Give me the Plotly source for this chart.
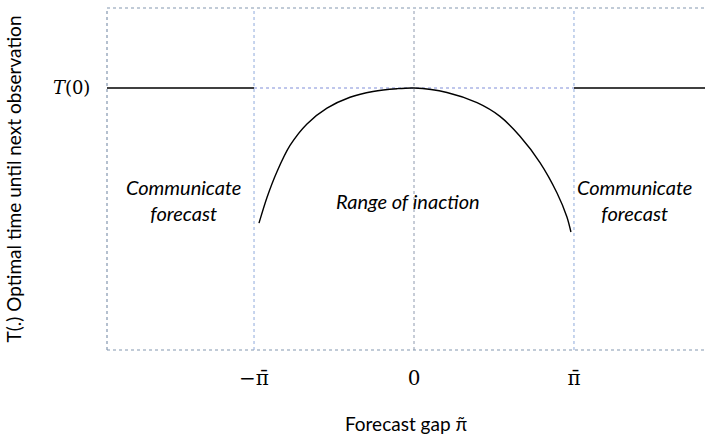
import plotly.graph_objects as go

# Data (x in units of pi-bar, y as fraction of plot height)
pi_bar = 1.0
T0 = 0.766
curve_x = [-0.969, -0.919, -0.856, -0.775, -0.669, -0.544, -0.400, -0.256, -0.106, 0.0,
           0.206, 0.394, 0.5375, 0.6625, 0.7875, 0.894, 0.956, 0.981]
curve_y = [0.371, 0.446, 0.522, 0.598, 0.661, 0.707, 0.739, 0.756, 0.764, 0.766,
           0.753, 0.723, 0.683, 0.625, 0.548, 0.459, 0.389, 0.345]
x_min, x_max = -1.919, 1.819
xtick_vals = [-pi_bar, 0, pi_bar]
xtick_text = ["\u2212\u03c0\u0304", "0", "\u03c0\u0304"]
ytick_vals = [T0]
ytick_text = ["<i>T</i>(0)"]

fig = go.Figure()
# flat segments
fig.add_trace(go.Scatter(x=[x_min, -pi_bar], y=[T0, T0], mode="lines",
                         line=dict(color="black", width=1.5), hoverinfo="skip"))
fig.add_trace(go.Scatter(x=[pi_bar, x_max], y=[T0, T0], mode="lines",
                         line=dict(color="black", width=1.5), hoverinfo="skip"))
fig.add_trace(go.Scatter(x=curve_x, y=curve_y, mode="lines",
                         line=dict(color="black", width=1.4, shape="spline", smoothing=0.8),
                         hoverinfo="skip"))

# dotted guides
for xv, col in [(-pi_bar, "#8faadc"), (0, "#8e9aaf"), (pi_bar, "#8faadc")]:
    fig.add_shape(type="line", x0=xv, x1=xv, y0=0, y1=1, xref="x", yref="y",
                  line=dict(color=col, width=1, dash="dot"), layer="below")
fig.add_shape(type="line", x0=-pi_bar, x1=pi_bar, y0=T0, y1=T0, xref="x", yref="y",
              line=dict(color="#aab4e6", width=1.5, dash="dot"), layer="below")
# frame (left, top, bottom)
for (x0, y0, x1, y1) in [(0, 0, 0, 1), (0, 1, 1, 1), (0, 0, 1, 0)]:
    fig.add_shape(type="line", x0=x0, x1=x1, y0=y0, y1=y1, xref="paper", yref="paper",
                  line=dict(color="#8497b0", width=1.2, dash="dot"), layer="below")

ann_font = dict(family="Lato", size=20, color="black")
fig.add_annotation(x=(x_min - pi_bar) / 2 + 0.02, y=0.44, text="<i>Communicate<br>forecast</i>",
                   showarrow=False, font=ann_font, align="center")
fig.add_annotation(x=-0.04, y=0.435, text="<i>Range of inaction</i>",
                   showarrow=False, font=ann_font, align="center")
fig.add_annotation(x=(x_max + pi_bar) / 2 - 0.03, y=0.44, text="<i>Communicate<br>forecast</i>",
                   showarrow=False, font=ann_font, align="center")

fig.update_layout(
    width=705, height=438,
    margin=dict(l=107, r=0, t=8, b=88),
    plot_bgcolor="white", paper_bgcolor="white",
    showlegend=False,
    xaxis=dict(range=[x_min, x_max], showgrid=False, zeroline=False, showline=False,
               automargin=False,
               tickvals=xtick_vals, ticktext=xtick_text, ticks="outside", ticklen=10,
               tickcolor="rgba(0,0,0,0)",
               tickfont=dict(family="DejaVu Serif", size=20, color="black"),
               title=dict(text="Forecast gap \u03c0\u0303", standoff=28,
                          font=dict(family="Lato", size=19, color="black"))),
    yaxis=dict(range=[0, 1], showgrid=False, zeroline=False, showline=False,
               automargin=False,
               tickvals=ytick_vals, ticktext=ytick_text, ticks="outside", ticklen=12,
               tickcolor="rgba(0,0,0,0)",
               tickfont=dict(family="DejaVu Serif", size=18, color="black"),
               title=dict(text="T(.) Optimal time until next observation", standoff=26,
                          font=dict(family="Lato", size=19, color="black"))),
)

fig.write_html("out.html", config={"displayModeBar": False},
               post_script="document.body.style.margin='0';document.body.style.overflow='hidden';")
